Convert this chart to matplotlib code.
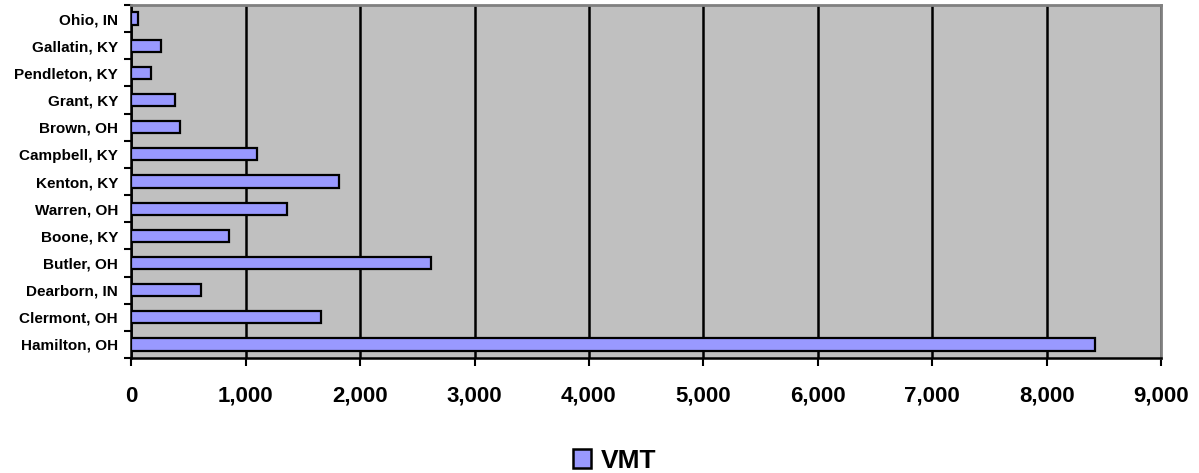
import matplotlib.pyplot as plt
from matplotlib.patches import Patch
from matplotlib.ticker import FuncFormatter, FixedLocator
import numpy as np

plt.rcParams["font.family"] = ["Liberation Sans", "DejaVu Sans"]
plt.rcParams["font.weight"] = "bold"

# counties listed bottom-to-top
counties = [
    "Hamilton, OH", "Clermont, OH", "Dearborn, IN", "Butler, OH", "Boone, KY",
    "Warren, OH", "Kenton, KY", "Campbell, KY", "Brown, OH", "Grant, KY",
    "Pendleton, KY", "Gallatin, KY", "Ohio, IN",
]
vmt = [8425, 1655, 612, 2617, 851, 1358, 1818, 1096, 425, 385, 175, 260, 60]
x_ticks = list(range(0, 9001, 1000))

fig = plt.figure(figsize=(11.99, 4.73), dpi=100)
ax = fig.add_axes([0.1095, 0.2431, 0.8588, 0.7463])
ax.set_facecolor("#C0C0C0")

y = np.arange(len(counties))
ax.barh(y, vmt, height=0.45, color="#9999FF", edgecolor="black", linewidth=1.6, zorder=3)

ax.set_xlim(0, 9000)
ax.set_ylim(-0.5, len(counties) - 0.5)
ax.set_xticks(x_ticks)
ax.xaxis.set_major_formatter(FuncFormatter(lambda v, _: f"{v:,.0f}"))
ax.grid(axis="x", color="black", linewidth=1.8, zorder=1)

# labels centred on bars, tick marks on category boundaries
ax.set_yticks(y)
ax.set_yticklabels(counties, fontsize=11, fontweight="bold")
ax.tick_params(axis="y", length=0, pad=9.5)
ax.yaxis.set_minor_locator(FixedLocator(np.arange(-0.5, len(counties), 1.0)))
ax.tick_params(axis="y", which="minor", length=5, width=1.5, color="black")
ax.tick_params(axis="x", length=6, width=1.5, pad=14, labelsize=16)
for lbl in ax.get_xticklabels():
    lbl.set_fontweight("bold")

for side in ("top", "right"):
    ax.spines[side].set_color("#808080")
    ax.spines[side].set_linewidth(2)
for side in ("left", "bottom"):
    ax.spines[side].set_color("black")
    ax.spines[side].set_linewidth(1.8)

handle = Patch(facecolor="#9999FF", edgecolor="black", linewidth=1.8)
fig.legend([handle], ["VMT"], loc="center", bbox_to_anchor=(0.513, 0.026),
           frameon=False, handlelength=0.65, handleheight=0.75, handletextpad=0.4,
           borderpad=0, prop={"size": 19, "weight": "bold"})

fig.savefig("out.png", dpi=100)
